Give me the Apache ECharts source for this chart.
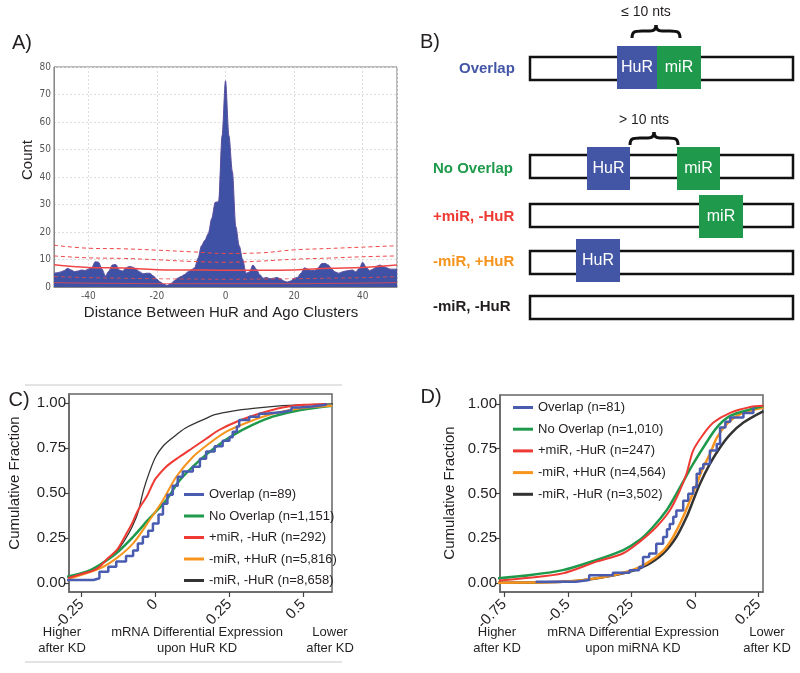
<!DOCTYPE html>
<html><head><meta charset="utf-8">
<script src="https://cdn.jsdelivr.net/npm/echarts@6/dist/echarts.min.js"></script>
<style>html,body{margin:0;padding:0;background:#fff}#c{width:800px;height:673px}</style>
</head><body><div id="c"></div>
<script>
// ---------- Panel A data ----------
const countA = [5,5.2,5.5,6,6.8,6.2,5.6,5.8,6.2,6,6.5,7,9.2,9,6.5,4,5.8,8,8.2,6.2,5.8,7,7.5,7.2,6.5,5.5,4.8,5,5,4,2.8,1.8,1,0.6,1.2,2.2,3.2,3.8,4.5,5.5,6.2,7,10.5,15,17,19.5,25,30.8,31,55,75,55,42,22,15,10,5,5.5,8,6.5,4.5,3.2,3.5,3,3.2,3.5,3,2.2,1.8,2.2,3.2,3.5,5,7,6.5,6,6,7,8.5,8.6,8,6.5,5.5,5,5.5,5.8,6,6.2,5.5,6.8,9,7.2,6,6.5,7.5,8,7.5,7,6.5,6.5,6.5];
const distA = countA.map((_, i) => i - 50);
const bandX = [-50,-40,-30,-20,-10,0,10,20,30,40,50];
const bandUpper = [15.2,14.1,13.9,13.4,12.8,12.2,12.4,13.5,14.0,14.5,15.0];
const bandMid = [11.3,10.6,10.4,9.9,9.3,9.0,9.4,10.1,10.5,11.0,11.3];
const bandMean = [8.1,7.1,6.9,6.3,6.2,6.1,6.1,6.2,6.8,7.1,8.0];
const bandLow = [3.8,3.4,3.2,3.0,2.9,2.8,2.9,3.0,3.2,3.4,3.8];
const bandLowest = [1.6,1.4,1.3,1.2,1.2,1.2,1.2,1.2,1.3,1.4,1.6];

// ---------- Panel C data (x, cumulative fraction) ----------
const cTicks = [-0.25, 0, 0.25, 0.5];
const cOverlap = [[-0.30,0.017],[-0.21,0.026],[-0.19,0.063],[-0.16,0.09],[-0.133,0.12],[-0.1,0.15],[-0.076,0.18],[-0.06,0.22],[-0.043,0.257],[-0.025,0.29],[-0.009,0.33],[0.01,0.38],[0.025,0.44],[0.04,0.49],[0.058,0.54],[0.075,0.59],[0.092,0.62],[0.126,0.646],[0.15,0.69],[0.171,0.73],[0.2,0.76],[0.227,0.79],[0.25,0.81],[0.261,0.84],[0.275,0.87],[0.283,0.905],[0.317,0.924],[0.35,0.94],[0.373,0.95],[0.43,0.96],[0.46,0.975],[0.486,0.98],[0.53,0.99],[0.576,0.998]];
const cNoOverlap = [[-0.30,0.035],[-0.234,0.063],[-0.19,0.10],[-0.133,0.165],[-0.076,0.257],[-0.02,0.36],[0.036,0.46],[0.081,0.57],[0.148,0.68],[0.205,0.757],[0.261,0.82],[0.328,0.878],[0.396,0.924],[0.486,0.96],[0.597,0.985]];
const cMiRnoHuR = [[-0.30,0.026],[-0.25,0.05],[-0.21,0.07],[-0.19,0.09],[-0.16,0.14],[-0.13,0.185],[-0.1,0.27],[-0.08,0.33],[-0.065,0.385],[-0.05,0.43],[-0.03,0.48],[-0.01,0.55],[0.0,0.58],[0.035,0.645],[0.08,0.70],[0.125,0.75],[0.17,0.80],[0.215,0.85],[0.28,0.90],[0.35,0.94],[0.43,0.975],[0.5,0.99],[0.58,0.995]];
const cHuRnoMiR = [[-0.30,0.02],[-0.19,0.08],[-0.133,0.137],[-0.076,0.22],[-0.02,0.35],[0.025,0.46],[0.07,0.59],[0.126,0.70],[0.182,0.776],[0.238,0.84],[0.317,0.896],[0.396,0.94],[0.486,0.97],[0.597,0.985]];
const cNeither = [[-0.30,0.035],[-0.25,0.05],[-0.2,0.085],[-0.15,0.15],[-0.12,0.2],[-0.1,0.25],[-0.08,0.31],[-0.06,0.39],[-0.04,0.52],[-0.02,0.62],[0,0.70],[0.025,0.76],[0.06,0.81],[0.1,0.86],[0.171,0.915],[0.2,0.935],[0.26,0.955],[0.33,0.97],[0.43,0.985],[0.5,0.99],[0.6,0.995]];

// ---------- Panel D data ----------
const dTicks = [-0.75, -0.5, -0.25, 0, 0.25];
const dOverlap = [[-0.627,0.007],[-0.468,0.017],[-0.416,0.044],[-0.323,0.057],[-0.257,0.072],[-0.22,0.09],[-0.204,0.146],[-0.18,0.165],[-0.152,0.22],[-0.125,0.257],[-0.11,0.3],[-0.099,0.33],[-0.085,0.37],[-0.073,0.405],[-0.046,0.46],[-0.026,0.498],[-0.007,0.535],[0.007,0.61],[0.02,0.64],[0.033,0.665],[0.059,0.74],[0.086,0.776],[0.099,0.868],[0.12,0.9],[0.139,0.924],[0.191,0.95],[0.23,0.98]];
const dNoOverlap = [[-0.785,0.026],[-0.653,0.044],[-0.52,0.072],[-0.39,0.128],[-0.284,0.183],[-0.218,0.24],[-0.165,0.313],[-0.112,0.405],[-0.073,0.498],[-0.033,0.6],[-0.007,0.665],[0.033,0.757],[0.086,0.868],[0.139,0.933],[0.218,0.97],[0.27,0.989]];
const dMiRnoHuR = [[-0.785,0.013],[-0.653,0.03],[-0.52,0.054],[-0.39,0.118],[-0.284,0.165],[-0.218,0.23],[-0.152,0.313],[-0.099,0.405],[-0.059,0.517],[-0.033,0.61],[-0.007,0.74],[0.033,0.83],[0.073,0.896],[0.139,0.95],[0.218,0.983],[0.27,0.99]];
const dHuRnoMiR = [[-0.785,0.002],[-0.52,0.007],[-0.39,0.026],[-0.257,0.067],[-0.19,0.11],[-0.125,0.18],[-0.086,0.257],[-0.046,0.37],[-0.02,0.46],[0.007,0.554],[0.033,0.646],[0.059,0.72],[0.086,0.81],[0.125,0.887],[0.178,0.943],[0.27,0.98]];
const dNeither = [[-0.785,0.002],[-0.52,0.007],[-0.39,0.026],[-0.257,0.063],[-0.19,0.1],[-0.125,0.165],[-0.073,0.257],[-0.033,0.368],[-0.007,0.46],[0.02,0.554],[0.059,0.665],[0.099,0.757],[0.139,0.83],[0.191,0.896],[0.27,0.96]];

const namesC = ['Overlap (n=89)','No Overlap (n=1,151)','+miR, -HuR (n=292)','-miR, +HuR (n=5,816)','-miR, -HuR (n=8,658)'];
const namesD = ['Overlap (n=81)','No Overlap (n=1,010)','+miR, -HuR (n=247)','-miR, +HuR (n=4,564)','-miR, -HuR (n=3,502)'];
const fracTicks = [0, 0.25, 0.5, 0.75, 1];

const BLUE='#4356a6', GREEN='#1f9a4c', RED='#ee3a33', ORANGE='#f7941d', BLACK='#231f20';
const FONT='Liberation Sans, Arial, sans-serif';
const CONDENSED='DejaVu Sans Condensed, DejaVu Sans, sans-serif';

const chart = echarts.init(document.getElementById('c'), null, {renderer:'canvas'});

function cdfAxisX(idx, min, max, ticks){
  return {gridIndex: idx, type:'value', min:min, max:max,
    axisLine:{show:true, onZero:false, lineStyle:{color:'#666', width:1.5}},
    axisTick:{show:true, length:5, lineStyle:{color:'#444', width:1.2}, customValues:ticks},
    axisLabel:{customValues:ticks, rotate:45, margin:10, fontSize:15, color:BLACK, fontFamily:FONT,
      formatter: v => String(v)},
    splitLine:{show:false}};
}
function cdfAxisY(idx){
  return {gridIndex: idx, type:'value', min:-0.05, max:1.05,
    axisLine:{show:true, onZero:false, lineStyle:{color:'#666', width:1.5}},
    axisTick:{show:true, length:5, lineStyle:{color:'#444', width:1.2}, customValues:fracTicks},
    axisLabel:{customValues:fracTicks, margin:3, fontSize:15, color:BLACK, fontFamily:FONT,
      formatter: v => v.toFixed(2)},
    splitLine:{show:false}};
}
function cdfSeries(name, data, color, w, axisIdx, step){
  return {name:name, type:'line', xAxisIndex:axisIdx, yAxisIndex:axisIdx, data:data,
    showSymbol:false, symbol:'none', step: step ? 'end' : false, smooth: step ? false : 0.3,
    lineStyle:{color:color, width:w}, itemStyle:{color:color}, z:5};
}
function bandSeries(vals, dashed, w){
  return {type:'line', xAxisIndex:0, yAxisIndex:0, data: bandX.map((x,i)=>[x, vals[i]]),
    showSymbol:false, symbol:'none', smooth:0.4, silent:true,
    lineStyle:{color:'#f04848', width:w, type: dashed ? [4,3] : 'solid'}, z:6};
}
function brace(x, y){
  const st = {fill:null, stroke:'#111', lineWidth:3};
  return {type:'group', x:x, y:y, children:[
    {type:'bezierCurve', shape:{x1:0,y1:13,x2:10,y2:6,cpx1:0,cpy1:7,cpx2:2,cpy2:6}, style:st},
    {type:'line', shape:{x1:10,y1:6,x2:18,y2:6}, style:st},
    {type:'bezierCurve', shape:{x1:18,y1:6,x2:24,y2:0,cpx1:22,cpy1:6,cpx2:24,cpy2:4}, style:st},
    {type:'bezierCurve', shape:{x1:24,y1:0,x2:30,y2:6,cpx1:24,cpy1:4,cpx2:26,cpy2:6}, style:st},
    {type:'line', shape:{x1:30,y1:6,x2:38,y2:6}, style:st},
    {type:'bezierCurve', shape:{x1:38,y1:6,x2:48,y2:13,cpx1:46,cpy1:6,cpx2:48,cpy2:7}, style:st}
  ]};
}
function strip(y){
  return {type:'rect', shape:{x:530, y:y, width:263, height:23}, style:{fill:'#fff', stroke:'#111', lineWidth:2.5}};
}
function box(x, y, w, color, label){
  return [{type:'rect', shape:{x:x, y:y, width:w, height:43}, style:{fill:color}},
    {type:'text', x:x + w/2, y:y + 22, style:{text:label, fill:'#fff', fontSize:16, fontFamily:FONT, align:'center', verticalAlign:'middle'}}];
}
function txt(x, y, s, opt){
  return {type:'text', x:x, y:y, rotation:(opt && opt.rot) || 0,
    style:Object.assign({text:s, fill:BLACK, fontSize:14, fontFamily:FONT, align:'center', verticalAlign:'middle'}, (opt && opt.style) || {})};
}

const graphics = [
  txt(22, 43, 'A)', {style:{fontSize:20}}),
  txt(430, 42, 'B)', {style:{fontSize:20}}),
  txt(19, 400, 'C)', {style:{fontSize:20}}),
  txt(431, 397, 'D)', {style:{fontSize:20}}),
  txt(28, 160, 'Count', {rot:Math.PI/2, style:{fontSize:15}}),
  txt(221, 313, 'Distance Between HuR and Ago Clusters', {style:{fontSize:15}}),
  txt(15, 483, 'Cumulative Fraction', {rot:Math.PI/2, style:{fontSize:15}}),
  txt(450, 493, 'Cumulative Fraction', {rot:Math.PI/2, style:{fontSize:15}}),
  txt(62, 640, 'Higher\nafter KD', {style:{fontSize:13, lineHeight:16}}),
  txt(197, 640, 'mRNA Differential Expression\nupon HuR KD', {style:{fontSize:13, lineHeight:16}}),
  txt(330, 640, 'Lower\nafter KD', {style:{fontSize:13, lineHeight:16}}),
  txt(497, 640, 'Higher\nafter KD', {style:{fontSize:13, lineHeight:16}}),
  txt(633, 640, 'mRNA Differential Expression\nupon miRNA KD', {style:{fontSize:13, lineHeight:16}}),
  txt(767, 640, 'Lower\nafter KD', {style:{fontSize:13, lineHeight:16}}),
  {type:'line', shape:{x1:25, y1:385, x2:342, y2:385}, style:{stroke:'#c8c8c8', lineWidth:1}},
  {type:'line', shape:{x1:25, y1:662, x2:342, y2:662}, style:{stroke:'#c8c8c8', lineWidth:1}},
  // Panel B schematic
  txt(646, 12, '\u2264 10 nts', {style:{fontSize:14}}),
  brace(632, 25),
  txt(644, 120, '> 10 nts', {style:{fontSize:14}}),
  brace(630, 132),
  strip(57), strip(155), strip(204), strip(251), strip(296),
  ...box(617, 46, 40, BLUE, 'HuR'), ...box(657, 46, 44, GREEN, 'miR'),
  ...box(587, 147, 43, BLUE, 'HuR'), ...box(677, 147, 43, GREEN, 'miR'),
  ...box(699, 195, 44, GREEN, 'miR'),
  ...box(576, 239, 44, BLUE, 'HuR'),
  txt(459, 69, 'Overlap', {style:{fill:BLUE, fontWeight:'bold', fontSize:15, align:'left'}}),
  txt(433, 169, 'No Overlap', {style:{fill:GREEN, fontWeight:'bold', fontSize:15, align:'left'}}),
  txt(433, 217, '+miR, -HuR', {style:{fill:RED, fontWeight:'bold', fontSize:15, align:'left'}}),
  txt(433, 262, '-miR, +HuR', {style:{fill:ORANGE, fontWeight:'bold', fontSize:15, align:'left'}}),
  txt(433, 307, '-miR, -HuR', {style:{fill:BLACK, fontWeight:'bold', fontSize:15, align:'left'}})
];

const option = {
  backgroundColor:'#fff',
  animation:false,
  textStyle:{fontFamily:FONT},
  grid:[
    {left:54, top:67, width:343, height:220, show:true, borderColor:'#777', borderWidth:1, backgroundColor:'#fff'},
    {left:69, top:394, width:263, height:198, show:true, borderColor:'#666', borderWidth:1.5},
    {left:500, top:395, width:263, height:197, show:true, borderColor:'#666', borderWidth:1.5}
  ],
  xAxis:[
    {gridIndex:0, type:'value', min:-50, max:50, splitNumber:5,
      axisLine:{show:true, onZero:false, lineStyle:{color:'#888'}}, axisTick:{show:false},
      axisLabel:{showMinLabel:false, showMaxLabel:false, fontSize:10, color:'#555', fontFamily:CONDENSED, margin:4},
      splitLine:{show:true, lineStyle:{color:'#ddd', type:[2,2]}}},
    cdfAxisX(1, -0.293, 0.597, cTicks),
    cdfAxisX(2, -0.767, 0.268, dTicks)
  ],
  yAxis:[
    {gridIndex:0, type:'value', min:0, max:80, interval:10,
      axisLine:{show:true, onZero:false, lineStyle:{color:'#888'}}, axisTick:{show:false},
      axisLabel:{fontSize:10, color:'#555', fontFamily:CONDENSED, margin:3},
      splitLine:{show:true, lineStyle:{color:'#ddd', type:[2,2]}}},
    cdfAxisY(1),
    cdfAxisY(2)
  ],
  legend:[
    {data:namesC, orient:'vertical', left:179, top:483, icon:'rect', itemWidth:20, itemHeight:3, itemGap:8.5,
      textStyle:{fontSize:13, lineHeight:13, color:BLACK, fontFamily:FONT}},
    {data:namesD, orient:'vertical', left:508, top:396, icon:'rect', itemWidth:20, itemHeight:3, itemGap:8.7,
      textStyle:{fontSize:13, lineHeight:13, color:BLACK, fontFamily:FONT}}
  ],
  series:[
    {type:'line', xAxisIndex:0, yAxisIndex:0, data: distA.map((x,i)=>[x, countA[i]]),
      showSymbol:false, symbol:'none', smooth:0.3, smoothMonotone:'x',
      lineStyle:{color:'#5a4d9e', width:1}, areaStyle:{color:'#3f51a4', opacity:1}, z:3},
    bandSeries(bandUpper, true, 1),
    bandSeries(bandMid, true, 1),
    bandSeries(bandMean, false, 1.5),
    bandSeries(bandLow, true, 0.8),
    bandSeries(bandLowest, false, 0.8),
    cdfSeries(namesC[4], cNeither, '#333', 1.3, 1, false),
    cdfSeries(namesC[1], cNoOverlap, GREEN, 2.5, 1, false),
    cdfSeries(namesC[3], cHuRnoMiR, ORANGE, 2, 1, false),
    cdfSeries(namesC[2], cMiRnoHuR, RED, 2, 1, false),
    cdfSeries(namesC[0], cOverlap, '#4a5cb0', 2.5, 1, true),
    cdfSeries(namesD[4], dNeither, '#333', 2.5, 2, false),
    cdfSeries(namesD[3], dHuRnoMiR, ORANGE, 2.5, 2, false),
    cdfSeries(namesD[1], dNoOverlap, GREEN, 2.5, 2, false),
    cdfSeries(namesD[2], dMiRnoHuR, RED, 2, 2, false),
    cdfSeries(namesD[0], dOverlap, '#4a5cb0', 2.5, 2, true)
  ],
  graphic: graphics
};
chart.setOption(option);
</script></body></html>
